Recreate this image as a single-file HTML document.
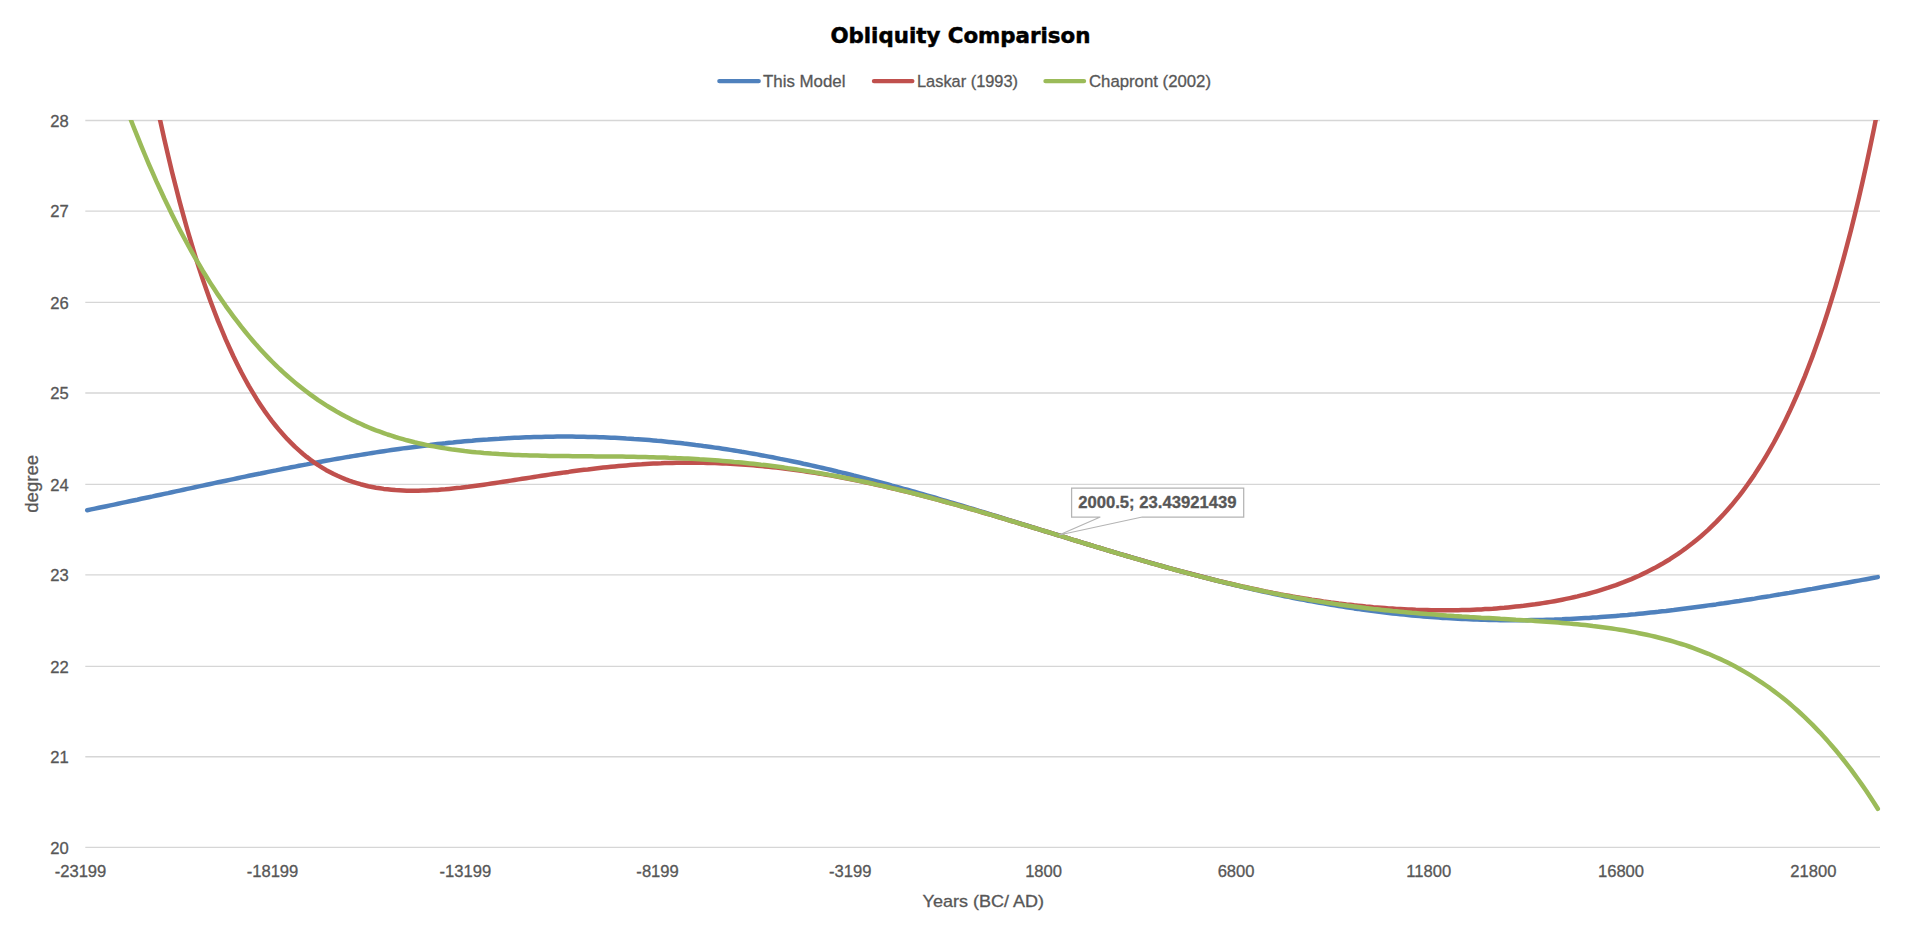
<!DOCTYPE html>
<html lang="en"><head><meta charset="utf-8"><title>Obliquity Comparison</title>
<style>html,body{margin:0;padding:0;background:#fff;}body{width:1920px;height:927px;overflow:hidden;}svg{display:block;}text{font-family:"Liberation Sans",Arial,sans-serif;fill:#575757;stroke:#575757;stroke-width:0.3px;}.t{font-family:"DejaVu Sans","Liberation Sans",sans-serif;font-weight:bold;fill:#000;stroke:#000;stroke-width:0.5px;}.s{fill:none;stroke-width:4.5;stroke-linejoin:round;stroke-linecap:round;}</style></head><body>
<svg width="1920" height="927" viewBox="0 0 1920 927">
<rect width="1920" height="927" fill="#fff"/>
<defs><clipPath id="pc"><rect x="82.3" y="120.06" width="1800.7" height="737.24"/></clipPath></defs>
<g stroke="#d6d6d6" stroke-width="1.35"><line x1="85.3" y1="120.50" x2="1880.0" y2="120.50"/><line x1="85.3" y1="211.05" x2="1880.0" y2="211.05"/><line x1="85.3" y1="302.40" x2="1880.0" y2="302.40"/><line x1="85.3" y1="393.00" x2="1880.0" y2="393.00"/><line x1="85.3" y1="484.40" x2="1880.0" y2="484.40"/><line x1="85.3" y1="574.90" x2="1880.0" y2="574.90"/><line x1="85.3" y1="666.35" x2="1880.0" y2="666.35"/><line x1="85.3" y1="756.75" x2="1880.0" y2="756.75"/><line x1="85.3" y1="847.35" x2="1880.0" y2="847.35"/></g>
<text class="t" x="960.4" y="42.8" font-size="21.33" text-anchor="middle" textLength="260" lengthAdjust="spacingAndGlyphs" stroke="#000" stroke-width="0.5">Obliquity Comparison</text>
<line x1="719.4" y1="81.1" x2="758.7" y2="81.1" stroke="#4f81bd" stroke-width="4.4" stroke-linecap="round"/>
<text x="763.0" y="86.6" font-size="16.8" textLength="82.5" lengthAdjust="spacingAndGlyphs">This Model</text>
<line x1="874.0" y1="81.1" x2="912.3" y2="81.1" stroke="#c0504d" stroke-width="4.4" stroke-linecap="round"/>
<text x="917.0" y="86.6" font-size="16.8" textLength="101.0" lengthAdjust="spacingAndGlyphs">Laskar (1993)</text>
<line x1="1045.5" y1="81.1" x2="1084.0" y2="81.1" stroke="#9bbb59" stroke-width="4.4" stroke-linecap="round"/>
<text x="1089.0" y="86.6" font-size="16.8" textLength="122.0" lengthAdjust="spacingAndGlyphs">Chapront (2002)</text>
<text x="68.8" y="126.7" font-size="16.6" text-anchor="end">28</text>
<text x="68.8" y="217.2" font-size="16.6" text-anchor="end">27</text>
<text x="68.8" y="308.6" font-size="16.6" text-anchor="end">26</text>
<text x="68.8" y="399.2" font-size="16.6" text-anchor="end">25</text>
<text x="68.8" y="490.6" font-size="16.6" text-anchor="end">24</text>
<text x="68.8" y="581.1" font-size="16.6" text-anchor="end">23</text>
<text x="68.8" y="672.6" font-size="16.6" text-anchor="end">22</text>
<text x="68.8" y="763.0" font-size="16.6" text-anchor="end">21</text>
<text x="68.8" y="853.6" font-size="16.6" text-anchor="end">20</text>
<text x="80.5" y="877.1" font-size="16.6" text-anchor="middle">-23199</text>
<text x="272.5" y="877.1" font-size="16.6" text-anchor="middle">-18199</text>
<text x="465.4" y="877.1" font-size="16.6" text-anchor="middle">-13199</text>
<text x="657.6" y="877.1" font-size="16.6" text-anchor="middle">-8199</text>
<text x="850.3" y="877.1" font-size="16.6" text-anchor="middle">-3199</text>
<text x="1043.6" y="877.1" font-size="16.6" text-anchor="middle">1800</text>
<text x="1236.1" y="877.1" font-size="16.6" text-anchor="middle">6800</text>
<text x="1428.8" y="877.1" font-size="16.6" text-anchor="middle">11800</text>
<text x="1621.0" y="877.1" font-size="16.6" text-anchor="middle">16800</text>
<text x="1813.4" y="877.1" font-size="16.6" text-anchor="middle">21800</text>
<text x="983.3" y="906.6" font-size="16.1" text-anchor="middle" textLength="121.5" lengthAdjust="spacingAndGlyphs">Years (BC/ AD)</text>
<text transform="translate(37.8 483.8) rotate(-90)" font-size="18.6" text-anchor="middle" textLength="58" lengthAdjust="spacingAndGlyphs">degree</text>
<g clip-path="url(#pc)">
<path class="s" stroke="#4f81bd" d="M87.2 510.2L91.1 509.4L94.9 508.6L98.8 507.8L102.6 507.0L106.5 506.2L110.3 505.4L114.2 504.6L118.0 503.8L121.9 502.9L125.7 502.1L129.6 501.3L133.4 500.5L137.3 499.7L141.1 498.8L145.0 498.0L148.8 497.2L152.7 496.4L156.5 495.5L160.4 494.7L164.2 493.9L168.1 493.1L171.9 492.2L175.8 491.4L179.6 490.6L183.5 489.7L187.3 488.9L191.2 488.1L195.0 487.3L198.9 486.4L202.7 485.6L206.6 484.8L210.4 484.0L214.3 483.1L218.1 482.3L222.0 481.5L225.8 480.7L229.7 479.9L233.5 479.1L237.4 478.2L241.2 477.4L245.1 476.6L248.9 475.8L252.8 475.0L256.6 474.2L260.5 473.5L264.3 472.7L268.2 471.9L272.0 471.1L275.9 470.4L279.7 469.6L283.6 468.8L287.4 468.1L291.3 467.3L295.1 466.6L299.0 465.8L302.8 465.1L306.7 464.4L310.5 463.6L314.4 462.9L318.2 462.2L322.1 461.5L325.9 460.8L329.8 460.1L333.7 459.4L337.5 458.8L341.4 458.1L345.2 457.4L349.1 456.8L352.9 456.1L356.8 455.5L360.6 454.9L364.5 454.2L368.3 453.6L372.2 453.0L376.0 452.4L379.9 451.8L383.7 451.2L387.6 450.6L391.4 450.1L395.3 449.5L399.1 449.0L403.0 448.4L406.8 447.9L410.7 447.4L414.5 446.9L418.4 446.4L422.2 445.9L426.1 445.4L429.9 445.0L433.8 444.5L437.6 444.1L441.5 443.7L445.3 443.3L449.2 442.8L453.0 442.5L456.9 442.1L460.7 441.7L464.6 441.3L468.4 441.0L472.3 440.7L476.1 440.3L480.0 440.0L483.8 439.7L487.7 439.5L491.5 439.2L495.4 438.9L499.2 438.7L503.1 438.4L506.9 438.2L510.8 438.0L514.6 437.8L518.5 437.7L522.3 437.5L526.2 437.3L530.0 437.2L533.9 437.1L537.7 437.0L541.6 436.9L545.4 436.8L549.3 436.7L553.1 436.7L557.0 436.6L560.8 436.6L564.7 436.6L568.6 436.6L572.4 436.6L576.3 436.7L580.1 436.7L584.0 436.8L587.8 436.9L591.7 437.0L595.5 437.1L599.4 437.2L603.2 437.3L607.1 437.5L610.9 437.7L614.8 437.8L618.6 438.0L622.5 438.2L626.3 438.5L630.2 438.7L634.0 439.0L637.9 439.2L641.7 439.5L645.6 439.8L649.4 440.1L653.3 440.4L657.1 440.8L661.0 441.1L664.8 441.5L668.7 441.9L672.5 442.3L676.4 442.7L680.2 443.1L684.1 443.6L687.9 444.0L691.8 444.5L695.6 445.0L699.5 445.4L703.3 446.0L707.2 446.5L711.0 447.0L714.9 447.6L718.7 448.1L722.6 448.7L726.4 449.3L730.3 449.9L734.1 450.5L738.0 451.1L741.8 451.8L745.7 452.4L749.5 453.1L753.4 453.8L757.2 454.4L761.1 455.2L764.9 455.9L768.8 456.6L772.6 457.3L776.5 458.1L780.3 458.9L784.2 459.6L788.0 460.4L791.9 461.2L795.7 462.0L799.6 462.8L803.4 463.7L807.3 464.5L811.2 465.4L815.0 466.2L818.9 467.1L822.7 468.0L826.6 468.9L830.4 469.8L834.3 470.7L838.1 471.7L842.0 472.6L845.8 473.5L849.7 474.5L853.5 475.5L857.4 476.4L861.2 477.4L865.1 478.4L868.9 479.4L872.8 480.4L876.6 481.4L880.5 482.5L884.3 483.5L888.2 484.5L892.0 485.6L895.9 486.6L899.7 487.7L903.6 488.8L907.4 489.8L911.3 490.9L915.1 492.0L919.0 493.1L922.8 494.2L926.7 495.3L930.5 496.4L934.4 497.5L938.2 498.7L942.1 499.8L945.9 500.9L949.8 502.1L953.6 503.2L957.5 504.4L961.3 505.5L965.2 506.7L969.0 507.8L972.9 509.0L976.7 510.2L980.6 511.3L984.4 512.5L988.3 513.7L992.1 514.8L996.0 516.0L999.8 517.2L1003.7 518.4L1007.5 519.6L1011.4 520.8L1015.2 521.9L1019.1 523.1L1022.9 524.3L1026.8 525.5L1030.6 526.7L1034.5 527.9L1038.3 529.1L1042.2 530.3L1046.0 531.5L1049.9 532.6L1053.8 533.8L1057.6 535.0L1061.5 536.2L1065.3 537.4L1069.2 538.6L1073.0 539.8L1076.9 540.9L1080.7 542.1L1084.6 543.3L1088.4 544.5L1092.3 545.6L1096.1 546.8L1100.0 547.9L1103.8 549.1L1107.7 550.3L1111.5 551.4L1115.4 552.6L1119.2 553.7L1123.1 554.8L1126.9 556.0L1130.8 557.1L1134.6 558.2L1138.5 559.3L1142.3 560.4L1146.2 561.6L1150.0 562.7L1153.9 563.7L1157.7 564.8L1161.6 565.9L1165.4 567.0L1169.3 568.1L1173.1 569.1L1177.0 570.2L1180.8 571.2L1184.7 572.3L1188.5 573.3L1192.4 574.3L1196.2 575.3L1200.1 576.3L1203.9 577.3L1207.8 578.3L1211.6 579.3L1215.5 580.3L1219.3 581.3L1223.2 582.2L1227.0 583.2L1230.9 584.1L1234.7 585.0L1238.6 585.9L1242.4 586.9L1246.3 587.8L1250.1 588.6L1254.0 589.5L1257.8 590.4L1261.7 591.2L1265.5 592.1L1269.4 592.9L1273.2 593.8L1277.1 594.6L1280.9 595.4L1284.8 596.2L1288.6 596.9L1292.5 597.7L1296.4 598.5L1300.2 599.2L1304.1 599.9L1307.9 600.7L1311.8 601.4L1315.6 602.1L1319.5 602.8L1323.3 603.4L1327.2 604.1L1331.0 604.7L1334.9 605.4L1338.7 606.0L1342.6 606.6L1346.4 607.2L1350.3 607.8L1354.1 608.4L1358.0 608.9L1361.8 609.5L1365.7 610.0L1369.5 610.5L1373.4 611.0L1377.2 611.5L1381.1 612.0L1384.9 612.5L1388.8 612.9L1392.6 613.4L1396.5 613.8L1400.3 614.2L1404.2 614.6L1408.0 615.0L1411.9 615.4L1415.7 615.7L1419.6 616.1L1423.4 616.4L1427.3 616.7L1431.1 617.0L1435.0 617.3L1438.8 617.6L1442.7 617.9L1446.5 618.1L1450.4 618.3L1454.2 618.6L1458.1 618.8L1461.9 619.0L1465.8 619.1L1469.6 619.3L1473.5 619.5L1477.3 619.6L1481.2 619.7L1485.0 619.8L1488.9 619.9L1492.7 620.0L1496.6 620.1L1500.4 620.2L1504.3 620.2L1508.1 620.2L1512.0 620.2L1515.8 620.2L1519.7 620.2L1523.5 620.2L1527.4 620.2L1531.2 620.1L1535.1 620.1L1539.0 620.0L1542.8 619.9L1546.7 619.8L1550.5 619.7L1554.4 619.6L1558.2 619.4L1562.1 619.3L1565.9 619.1L1569.8 618.9L1573.6 618.7L1577.5 618.5L1581.3 618.3L1585.2 618.1L1589.0 617.9L1592.9 617.6L1596.7 617.4L1600.6 617.1L1604.4 616.8L1608.3 616.5L1612.1 616.2L1616.0 615.9L1619.8 615.6L1623.7 615.2L1627.5 614.9L1631.4 614.5L1635.2 614.2L1639.1 613.8L1642.9 613.4L1646.8 613.0L1650.6 612.6L1654.5 612.2L1658.3 611.8L1662.2 611.3L1666.0 610.9L1669.9 610.4L1673.7 610.0L1677.6 609.5L1681.4 609.0L1685.3 608.5L1689.1 608.0L1693.0 607.5L1696.8 607.0L1700.7 606.5L1704.5 606.0L1708.4 605.4L1712.2 604.9L1716.1 604.4L1719.9 603.8L1723.8 603.3L1727.6 602.7L1731.5 602.1L1735.3 601.5L1739.2 601.0L1743.0 600.4L1746.9 599.8L1750.7 599.2L1754.6 598.6L1758.4 597.9L1762.3 597.3L1766.1 596.7L1770.0 596.1L1773.9 595.4L1777.7 594.8L1781.6 594.1L1785.4 593.5L1789.3 592.9L1793.1 592.2L1797.0 591.5L1800.8 590.9L1804.7 590.2L1808.5 589.5L1812.4 588.9L1816.2 588.2L1820.1 587.5L1823.9 586.8L1827.8 586.1L1831.6 585.5L1835.5 584.8L1839.3 584.1L1843.2 583.4L1847.0 582.7L1850.9 582.0L1854.7 581.3L1858.6 580.6L1862.4 579.9L1866.3 579.2L1870.1 578.5L1874.0 577.8L1877.8 577.1"/>
<path class="s" stroke="#c0504d" d="M148.8 65.7L152.7 85.0L156.5 103.6L160.4 121.6L164.2 138.8L168.1 155.4L171.9 171.4L175.8 186.8L179.6 201.6L183.5 215.9L187.3 229.5L191.2 242.7L195.0 255.3L198.9 267.5L202.7 279.1L206.6 290.3L210.4 301.0L214.3 311.3L218.1 321.1L222.0 330.5L225.8 339.6L229.7 348.2L233.5 356.5L237.4 364.4L241.2 372.0L245.1 379.2L248.9 386.1L252.8 392.6L256.6 398.9L260.5 404.9L264.3 410.6L268.2 416.0L272.0 421.1L275.9 426.0L279.7 430.6L283.6 435.0L287.4 439.2L291.3 443.1L295.1 446.9L299.0 450.4L302.8 453.7L306.7 456.9L310.5 459.8L314.4 462.6L318.2 465.2L322.1 467.6L325.9 469.9L329.8 472.0L333.7 474.0L337.5 475.8L341.4 477.5L345.2 479.1L349.1 480.6L352.9 481.9L356.8 483.1L360.6 484.2L364.5 485.2L368.3 486.2L372.2 487.0L376.0 487.7L379.9 488.3L383.7 488.9L387.6 489.3L391.4 489.7L395.3 490.1L399.1 490.3L403.0 490.5L406.8 490.7L410.7 490.7L414.5 490.8L418.4 490.7L422.2 490.6L426.1 490.5L429.9 490.3L433.8 490.1L437.6 489.9L441.5 489.6L445.3 489.3L449.2 488.9L453.0 488.5L456.9 488.1L460.7 487.7L464.6 487.2L468.4 486.8L472.3 486.3L476.1 485.8L480.0 485.2L483.8 484.7L487.7 484.1L491.5 483.6L495.4 483.0L499.2 482.4L503.1 481.8L506.9 481.2L510.8 480.6L514.6 480.0L518.5 479.4L522.3 478.8L526.2 478.2L530.0 477.6L533.9 477.0L537.7 476.4L541.6 475.8L545.4 475.2L549.3 474.6L553.1 474.1L557.0 473.5L560.8 473.0L564.7 472.4L568.6 471.9L572.4 471.3L576.3 470.8L580.1 470.3L584.0 469.8L587.8 469.4L591.7 468.9L595.5 468.4L599.4 468.0L603.2 467.6L607.1 467.2L610.9 466.8L614.8 466.4L618.6 466.0L622.5 465.7L626.3 465.4L630.2 465.1L634.0 464.8L637.9 464.5L641.7 464.3L645.6 464.0L649.4 463.8L653.3 463.6L657.1 463.4L661.0 463.3L664.8 463.1L668.7 463.0L672.5 462.9L676.4 462.8L680.2 462.8L684.1 462.7L687.9 462.7L691.8 462.7L695.6 462.7L699.5 462.7L703.3 462.8L707.2 462.9L711.0 463.0L714.9 463.1L718.7 463.2L722.6 463.4L726.4 463.6L730.3 463.8L734.1 464.0L738.0 464.2L741.8 464.5L745.7 464.7L749.5 465.0L753.4 465.3L757.2 465.7L761.1 466.0L764.9 466.4L768.8 466.8L772.6 467.2L776.5 467.6L780.3 468.1L784.2 468.5L788.0 469.0L791.9 469.5L795.7 470.0L799.6 470.5L803.4 471.1L807.3 471.7L811.2 472.3L815.0 472.9L818.9 473.5L822.7 474.1L826.6 474.8L830.4 475.4L834.3 476.1L838.1 476.8L842.0 477.6L845.8 478.3L849.7 479.0L853.5 479.8L857.4 480.6L861.2 481.4L865.1 482.2L868.9 483.0L872.8 483.8L876.6 484.7L880.5 485.5L884.3 486.4L888.2 487.3L892.0 488.2L895.9 489.1L899.7 490.1L903.6 491.0L907.4 491.9L911.3 492.9L915.1 493.9L919.0 494.9L922.8 495.8L926.7 496.9L930.5 497.9L934.4 498.9L938.2 499.9L942.1 501.0L945.9 502.0L949.8 503.1L953.6 504.1L957.5 505.2L961.3 506.3L965.2 507.4L969.0 508.5L972.9 509.6L976.7 510.7L980.6 511.8L984.4 513.0L988.3 514.1L992.1 515.2L996.0 516.4L999.8 517.5L1003.7 518.7L1007.5 519.8L1011.4 521.0L1015.2 522.1L1019.1 523.3L1022.9 524.5L1026.8 525.6L1030.6 526.8L1034.5 528.0L1038.3 529.2L1042.2 530.3L1046.0 531.5L1049.9 532.7L1053.8 533.9L1057.6 535.1L1061.5 536.2L1065.3 537.4L1069.2 538.6L1073.0 539.8L1076.9 541.0L1080.7 542.1L1084.6 543.3L1088.4 544.5L1092.3 545.7L1096.1 546.8L1100.0 548.0L1103.8 549.2L1107.7 550.3L1111.5 551.5L1115.4 552.6L1119.2 553.8L1123.1 554.9L1126.9 556.0L1130.8 557.2L1134.6 558.3L1138.5 559.4L1142.3 560.5L1146.2 561.6L1150.0 562.7L1153.9 563.8L1157.7 564.9L1161.6 566.0L1165.4 567.1L1169.3 568.1L1173.1 569.2L1177.0 570.2L1180.8 571.3L1184.7 572.3L1188.5 573.3L1192.4 574.3L1196.2 575.3L1200.1 576.3L1203.9 577.3L1207.8 578.3L1211.6 579.2L1215.5 580.2L1219.3 581.1L1223.2 582.0L1227.0 582.9L1230.9 583.8L1234.7 584.7L1238.6 585.6L1242.4 586.5L1246.3 587.3L1250.1 588.1L1254.0 589.0L1257.8 589.8L1261.7 590.6L1265.5 591.4L1269.4 592.1L1273.2 592.9L1277.1 593.6L1280.9 594.4L1284.8 595.1L1288.6 595.8L1292.5 596.5L1296.4 597.1L1300.2 597.8L1304.1 598.4L1307.9 599.0L1311.8 599.7L1315.6 600.2L1319.5 600.8L1323.3 601.4L1327.2 601.9L1331.0 602.5L1334.9 603.0L1338.7 603.5L1342.6 603.9L1346.4 604.4L1350.3 604.8L1354.1 605.3L1358.0 605.7L1361.8 606.1L1365.7 606.5L1369.5 606.8L1373.4 607.2L1377.2 607.5L1381.1 607.8L1384.9 608.1L1388.8 608.4L1392.6 608.6L1396.5 608.9L1400.3 609.1L1404.2 609.3L1408.0 609.5L1411.9 609.6L1415.7 609.8L1419.6 609.9L1423.4 610.0L1427.3 610.1L1431.1 610.2L1435.0 610.3L1438.8 610.3L1442.7 610.3L1446.5 610.3L1450.4 610.3L1454.2 610.2L1458.1 610.2L1461.9 610.1L1465.8 610.0L1469.6 609.9L1473.5 609.7L1477.3 609.5L1481.2 609.4L1485.0 609.1L1488.9 608.9L1492.7 608.7L1496.6 608.4L1500.4 608.1L1504.3 607.8L1508.1 607.4L1512.0 607.0L1515.8 606.6L1519.7 606.2L1523.5 605.8L1527.4 605.3L1531.2 604.8L1535.1 604.3L1539.0 603.7L1542.8 603.1L1546.7 602.5L1550.5 601.9L1554.4 601.2L1558.2 600.5L1562.1 599.7L1565.9 598.9L1569.8 598.1L1573.6 597.3L1577.5 596.4L1581.3 595.4L1585.2 594.5L1589.0 593.5L1592.9 592.4L1596.7 591.3L1600.6 590.1L1604.4 588.9L1608.3 587.7L1612.1 586.4L1616.0 585.1L1619.8 583.6L1623.7 582.2L1627.5 580.7L1631.4 579.1L1635.2 577.4L1639.1 575.7L1642.9 573.9L1646.8 572.0L1650.6 570.1L1654.5 568.1L1658.3 566.0L1662.2 563.8L1666.0 561.5L1669.9 559.2L1673.7 556.7L1677.6 554.2L1681.4 551.5L1685.3 548.7L1689.1 545.8L1693.0 542.8L1696.8 539.7L1700.7 536.5L1704.5 533.1L1708.4 529.6L1712.2 525.9L1716.1 522.1L1719.9 518.1L1723.8 514.0L1727.6 509.7L1731.5 505.3L1735.3 500.6L1739.2 495.8L1743.0 490.8L1746.9 485.5L1750.7 480.1L1754.6 474.4L1758.4 468.5L1762.3 462.4L1766.1 456.1L1770.0 449.4L1773.9 442.5L1777.7 435.4L1781.6 427.9L1785.4 420.2L1789.3 412.1L1793.1 403.7L1797.0 395.0L1800.8 386.0L1804.7 376.6L1808.5 366.8L1812.4 356.6L1816.2 346.1L1820.1 335.1L1823.9 323.7L1827.8 311.8L1831.6 299.5L1835.5 286.8L1839.3 273.5L1843.2 259.7L1847.0 245.4L1850.9 230.5L1854.7 215.1L1858.6 199.0L1862.4 182.4L1866.3 165.1L1870.1 147.2L1874.0 128.6L1877.8 109.4"/>
<path class="s" stroke="#9bbb59" d="M114.2 74.6L118.0 85.5L121.9 96.1L125.7 106.5L129.6 116.6L133.4 126.5L137.3 136.2L141.1 145.7L145.0 155.0L148.8 164.1L152.7 172.9L156.5 181.6L160.4 190.0L164.2 198.3L168.1 206.3L171.9 214.2L175.8 221.9L179.6 229.4L183.5 236.7L187.3 243.8L191.2 250.8L195.0 257.6L198.9 264.2L202.7 270.7L206.6 277.0L210.4 283.1L214.3 289.1L218.1 294.9L222.0 300.5L225.8 306.1L229.7 311.4L233.5 316.6L237.4 321.7L241.2 326.7L245.1 331.5L248.9 336.1L252.8 340.7L256.6 345.1L260.5 349.4L264.3 353.5L268.2 357.6L272.0 361.5L275.9 365.3L279.7 369.0L283.6 372.6L287.4 376.0L291.3 379.4L295.1 382.6L299.0 385.8L302.8 388.8L306.7 391.8L310.5 394.6L314.4 397.4L318.2 400.1L322.1 402.6L325.9 405.1L329.8 407.5L333.7 409.8L337.5 412.1L341.4 414.2L345.2 416.3L349.1 418.3L352.9 420.2L356.8 422.1L360.6 423.8L364.5 425.6L368.3 427.2L372.2 428.8L376.0 430.3L379.9 431.7L383.7 433.1L387.6 434.5L391.4 435.7L395.3 437.0L399.1 438.1L403.0 439.2L406.8 440.3L410.7 441.3L414.5 442.3L418.4 443.2L422.2 444.0L426.1 444.9L429.9 445.7L433.8 446.4L437.6 447.1L441.5 447.8L445.3 448.4L449.2 449.0L453.0 449.6L456.9 450.1L460.7 450.6L464.6 451.1L468.4 451.5L472.3 451.9L476.1 452.3L480.0 452.6L483.8 453.0L487.7 453.3L491.5 453.6L495.4 453.8L499.2 454.1L503.1 454.3L506.9 454.5L510.8 454.7L514.6 454.9L518.5 455.0L522.3 455.2L526.2 455.3L530.0 455.4L533.9 455.5L537.7 455.6L541.6 455.7L545.4 455.8L549.3 455.9L553.1 455.9L557.0 456.0L560.8 456.0L564.7 456.1L568.6 456.1L572.4 456.2L576.3 456.2L580.1 456.2L584.0 456.3L587.8 456.3L591.7 456.3L595.5 456.4L599.4 456.4L603.2 456.4L607.1 456.5L610.9 456.5L614.8 456.5L618.6 456.6L622.5 456.6L626.3 456.7L630.2 456.8L634.0 456.8L637.9 456.9L641.7 457.0L645.6 457.1L649.4 457.2L653.3 457.3L657.1 457.4L661.0 457.5L664.8 457.6L668.7 457.8L672.5 457.9L676.4 458.1L680.2 458.2L684.1 458.4L687.9 458.6L691.8 458.8L695.6 459.0L699.5 459.3L703.3 459.5L707.2 459.7L711.0 460.0L714.9 460.3L718.7 460.6L722.6 460.9L726.4 461.2L730.3 461.5L734.1 461.9L738.0 462.2L741.8 462.6L745.7 463.0L749.5 463.4L753.4 463.8L757.2 464.2L761.1 464.7L764.9 465.1L768.8 465.6L772.6 466.1L776.5 466.6L780.3 467.1L784.2 467.6L788.0 468.2L791.9 468.7L795.7 469.3L799.6 469.9L803.4 470.5L807.3 471.1L811.2 471.7L815.0 472.4L818.9 473.0L822.7 473.7L826.6 474.4L830.4 475.1L834.3 475.8L838.1 476.5L842.0 477.3L845.8 478.0L849.7 478.8L853.5 479.6L857.4 480.4L861.2 481.2L865.1 482.0L868.9 482.8L872.8 483.7L876.6 484.6L880.5 485.4L884.3 486.3L888.2 487.2L892.0 488.1L895.9 489.0L899.7 490.0L903.6 490.9L907.4 491.9L911.3 492.8L915.1 493.8L919.0 494.8L922.8 495.8L926.7 496.8L930.5 497.8L934.4 498.9L938.2 499.9L942.1 500.9L945.9 502.0L949.8 503.1L953.6 504.1L957.5 505.2L961.3 506.3L965.2 507.4L969.0 508.5L972.9 509.6L976.7 510.7L980.6 511.8L984.4 512.9L988.3 514.1L992.1 515.2L996.0 516.3L999.8 517.5L1003.7 518.6L1007.5 519.8L1011.4 521.0L1015.2 522.1L1019.1 523.3L1022.9 524.5L1026.8 525.6L1030.6 526.8L1034.5 528.0L1038.3 529.2L1042.2 530.3L1046.0 531.5L1049.9 532.7L1053.8 533.9L1057.6 535.1L1061.5 536.2L1065.3 537.4L1069.2 538.6L1073.0 539.8L1076.9 541.0L1080.7 542.1L1084.6 543.3L1088.4 544.5L1092.3 545.7L1096.1 546.8L1100.0 548.0L1103.8 549.2L1107.7 550.3L1111.5 551.5L1115.4 552.6L1119.2 553.8L1123.1 554.9L1126.9 556.1L1130.8 557.2L1134.6 558.3L1138.5 559.4L1142.3 560.6L1146.2 561.7L1150.0 562.8L1153.9 563.9L1157.7 564.9L1161.6 566.0L1165.4 567.1L1169.3 568.2L1173.1 569.2L1177.0 570.3L1180.8 571.3L1184.7 572.3L1188.5 573.4L1192.4 574.4L1196.2 575.4L1200.1 576.4L1203.9 577.4L1207.8 578.3L1211.6 579.3L1215.5 580.2L1219.3 581.2L1223.2 582.1L1227.0 583.0L1230.9 583.9L1234.7 584.8L1238.6 585.7L1242.4 586.6L1246.3 587.5L1250.1 588.3L1254.0 589.2L1257.8 590.0L1261.7 590.8L1265.5 591.6L1269.4 592.4L1273.2 593.2L1277.1 593.9L1280.9 594.7L1284.8 595.4L1288.6 596.2L1292.5 596.9L1296.4 597.6L1300.2 598.3L1304.1 598.9L1307.9 599.6L1311.8 600.2L1315.6 600.9L1319.5 601.5L1323.3 602.1L1327.2 602.7L1331.0 603.3L1334.9 603.9L1338.7 604.4L1342.6 605.0L1346.4 605.5L1350.3 606.0L1354.1 606.5L1358.0 607.0L1361.8 607.5L1365.7 608.0L1369.5 608.4L1373.4 608.9L1377.2 609.3L1381.1 609.8L1384.9 610.2L1388.8 610.6L1392.6 611.0L1396.5 611.3L1400.3 611.7L1404.2 612.1L1408.0 612.4L1411.9 612.8L1415.7 613.1L1419.6 613.4L1423.4 613.7L1427.3 614.1L1431.1 614.3L1435.0 614.6L1438.8 614.9L1442.7 615.2L1446.5 615.5L1450.4 615.7L1454.2 616.0L1458.1 616.2L1461.9 616.5L1465.8 616.7L1469.6 617.0L1473.5 617.2L1477.3 617.4L1481.2 617.7L1485.0 617.9L1488.9 618.1L1492.7 618.3L1496.6 618.5L1500.4 618.8L1504.3 619.0L1508.1 619.2L1512.0 619.4L1515.8 619.7L1519.7 619.9L1523.5 620.2L1527.4 620.4L1531.2 620.6L1535.1 620.9L1539.0 621.2L1542.8 621.4L1546.7 621.7L1550.5 622.0L1554.4 622.3L1558.2 622.6L1562.1 622.9L1565.9 623.2L1569.8 623.6L1573.6 623.9L1577.5 624.3L1581.3 624.7L1585.2 625.1L1589.0 625.5L1592.9 626.0L1596.7 626.4L1600.6 626.9L1604.4 627.4L1608.3 628.0L1612.1 628.5L1616.0 629.1L1619.8 629.7L1623.7 630.3L1627.5 631.0L1631.4 631.7L1635.2 632.4L1639.1 633.2L1642.9 634.0L1646.8 634.8L1650.6 635.6L1654.5 636.5L1658.3 637.5L1662.2 638.5L1666.0 639.5L1669.9 640.5L1673.7 641.6L1677.6 642.8L1681.4 644.0L1685.3 645.2L1689.1 646.5L1693.0 647.9L1696.8 649.3L1700.7 650.8L1704.5 652.3L1708.4 653.8L1712.2 655.5L1716.1 657.2L1719.9 658.9L1723.8 660.7L1727.6 662.6L1731.5 664.6L1735.3 666.6L1739.2 668.7L1743.0 670.9L1746.9 673.1L1750.7 675.4L1754.6 677.8L1758.4 680.3L1762.3 682.9L1766.1 685.5L1770.0 688.2L1773.9 691.1L1777.7 694.0L1781.6 697.0L1785.4 700.1L1789.3 703.3L1793.1 706.6L1797.0 710.0L1800.8 713.5L1804.7 717.1L1808.5 720.8L1812.4 724.6L1816.2 728.6L1820.1 732.6L1823.9 736.8L1827.8 741.1L1831.6 745.5L1835.5 750.0L1839.3 754.7L1843.2 759.5L1847.0 764.4L1850.9 769.4L1854.7 774.6L1858.6 780.0L1862.4 785.4L1866.3 791.0L1870.1 796.8L1874.0 802.7L1877.8 808.8"/>
</g>
<path d="M1071.6 488.2H1243.7V517.0H1142.2L1059.1 535.0L1100.3 517.0H1071.6Z" fill="#fff" stroke="#b4b4b4" stroke-width="1.25" stroke-linejoin="miter"/>
<text x="1157.4" y="508.4" font-size="15.8" font-weight="bold" text-anchor="middle" textLength="158.5" lengthAdjust="spacingAndGlyphs">2000.5; 23.43921439</text>
</svg></body></html>
